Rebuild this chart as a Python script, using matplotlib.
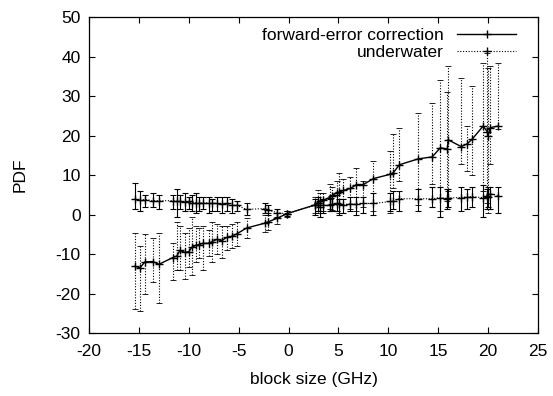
import matplotlib
matplotlib.use("Agg")
import matplotlib.pyplot as plt
from matplotlib.lines import Line2D
import numpy as np

plt.rcParams['font.family'] = ['Liberation Sans', 'DejaVu Sans']
plt.rcParams['axes.unicode_minus'] = False

# shared x positions (GHz)
x = [-15.4, -14.9, -14.4, -13.6, -13.0, -11.6, -11.2, -10.9, -10.4, -10.0,
     -9.7, -9.3, -9.0, -8.6, -8.0, -7.7, -7.2, -6.7, -6.2, -5.7,
     -5.2, -4.2, -2.4, -2.1, -1.2, -0.2, 2.6, 2.9, 3.1, 3.4,
     4.1, 4.3, 4.8, 5.1, 5.5, 6.2, 6.8, 7.5, 8.5, 10.2,
     10.5, 11.1, 13.0, 14.4, 15.2, 15.9, 16.0, 17.3, 17.9, 18.4,
     19.5, 19.9, 20.0, 20.2, 21.0]

# forward-error correction
fec_y = [-13.1, -13.5, -12.0, -11.9, -12.6, -10.9, -10.5, -9.1, -9.6, -9.4,
         -8.3, -7.8, -7.6, -7.3, -7.3, -6.9, -6.3, -6.6, -5.8, -5.5,
         -4.9, -3.4, -2.2, -1.9, -1.0, 0.2, 2.4, 2.9, 3.3, 3.6,
         4.3, 4.7, 5.5, 5.7, 6.1, 6.6, 7.6, 7.6, 9.1, 10.2,
         10.6, 12.6, 14.1, 14.6, 16.9, 16.6, 18.9, 17.2, 17.9, 19.1,
         22.4, 21.0, 20.0, 22.0, 22.4]
fec_lo = [-24, -24.5, -20, -17, -22.5, -16.7, -14, -14, -16.2, -13.4,
          -15.4, -12, -11, -14, -10.5, -12, -10, -11, -9, -8.5,
          -8, -6, -4.5, -4, -2.5, -0.5, 0.3, 0.5, 0.8, 1.0,
          1.5, 1.2, 1.0, 0.5, 2.5, 1.5, 1.0, 2.0, 1.0, 0.5,
          6.8, 8.6, 2.3, 7.8, 1.0, 3.5, 6.0, 12.9, 11.1, 10.0,
          6.0, 3.0, 0.5, 12.9, 21.7]
fec_hi = [-4.8, -8, -5, -6, -4.8, -7.3, -2, -3, -4.8, -3.5,
          -0.7, -2.8, -3.5, -3, -4, -2, -2.5, -3, -3, -2.5,
          -2, -1, 0, 0.3, 0.5, 1.0, 4.5, 6.1, 5.5, 5.5,
          7.8, 7.0, 8.5, 10.6, 9.0, 9.5, 11.9, 8.6, 13.6, 16.2,
          20.4, 22.0, 25.8, 28.3, 34.0, 31.0, 37.6, 34.6, 22.5, 32.6,
          38.4, 41.0, 37.0, 37.6, 38.4]

# underwater
uw_y = [4.0, 3.6, 3.8, 3.5, 3.5, 3.5, 3.3, 3.3, 3.2, 3.3,
        3.0, 3.0, 2.8, 3.0, 2.9, 2.8, 2.8, 2.7, 2.8, 2.3,
        2.3, 1.3, 1.5, 1.2, 0.5, 0.2, 2.3, 2.8, 1.8, 2.4,
        2.3, 2.6, 2.8, 2.6, 2.5, 2.7, 2.6, 2.8, 2.8, 3.3,
        3.5, 4.0, 4.0, 4.0, 4.3, 4.0, 4.2, 4.3, 4.5, 4.5,
        4.3, 4.8, 4.4, 5.3, 4.8]
uw_lo = [1.5, 1.0, 2.0, 1.8, 1.5, 1.5, -0.5, 1.5, 1.0, 1.5,
         0.8, 0.5, 1.0, 1.5, 0.5, 1.0, 1.0, 0.5, 1.0, 0.5,
         1.0, 0.0, 0.5, 0.0, -0.5, -0.3, 0.0, 1.0, -0.5, 0.5,
         0.8, 1.0, 1.0, 0.0, 0.5, 1.0, 0.0, 0.5, -0.2, 1.0,
         1.5, 1.0, 1.0, 2.0, -0.5, 1.5, 2.0, 1.0, 1.5, 2.0,
         -0.5, 1.5, 2.0, 1.5, 0.5]
uw_hi = [8.0, 6.0, 5.0, 5.5, 5.0, 5.0, 6.5, 5.0, 5.5, 4.5,
         5.0, 5.5, 4.5, 4.5, 4.5, 4.0, 4.5, 4.5, 4.5, 4.0,
         3.5, 3.0, 3.0, 2.5, 1.5, 1.0, 4.0, 4.5, 3.5, 4.0,
         4.0, 5.0, 5.0, 4.0, 4.0, 4.5, 4.5, 4.5, 5.5, 5.5,
         6.0, 6.0, 6.5, 7.0, 7.0, 6.5, 6.5, 7.0, 6.5, 7.0,
         7.5, 6.5, 7.0, 7.0, 7.0]

labels = ["forward-error correction", "underwater"]
xticks = [-20, -15, -10, -5, 0, 5, 10, 15, 20, 25]
yticks = [-30, -20, -10, 0, 10, 20, 30, 40, 50]

fig = plt.figure(figsize=(5.53, 3.96), dpi=100)
ax = fig.add_axes([0.161, 0.159, 0.812, 0.798])

xa = np.array(x)
fy = np.array(fec_y)
uy = np.array(uw_y)

# FEC error bars (dotted)
e1 = ax.errorbar(xa, fy, yerr=[fy - np.array(fec_lo), np.array(fec_hi) - fy],
                 fmt='none', ecolor='black', elinewidth=0.8, capsize=2,
                 capthick=0.6, zorder=2)
for lc in e1[2]:
    lc.set_linestyle((0, (1, 1.5)))
ax.plot(xa, fy, color='black', lw=1.0, marker='+', ms=6, mew=1.0, zorder=4)

# underwater error bars (solid)
ax.errorbar(xa, uy, yerr=[uy - np.array(uw_lo), np.array(uw_hi) - uy],
            fmt='none', ecolor='black', elinewidth=0.8, capsize=2.5,
            capthick=0.8, zorder=3)
ax.plot(xa, uy, color='black', lw=0.8, ls=(0, (1, 1.5)), marker='+', ms=6,
        mew=1.0, zorder=4)

ax.set_xlim(-20, 25)
ax.set_ylim(-30, 50)
ax.set_xticks(xticks)
ax.set_yticks(yticks)
ax.tick_params(direction='in', length=4.5, width=0.8, top=True, right=True,
               labelsize=12.5, colors='black')
ax.tick_params(axis='x', pad=8)
ax.tick_params(axis='y', pad=6)
for s in ax.spines.values():
    s.set_linewidth(0.9)

ax.set_xlabel("block size (GHz)", fontsize=12.5, labelpad=9)
ax.set_ylabel("PDF", fontsize=12.5, labelpad=20)

handles = [Line2D([], [], color='black', lw=1.0, marker='+', ms=6),
           Line2D([], [], color='black', lw=0.8, ls=(0, (1, 1.5)), marker='+', ms=6)]
ax.legend(handles, labels, loc='upper right', frameon=False, markerfirst=False,
          fontsize=12.5, handlelength=3.4, handletextpad=0.8, labelspacing=0.15,
          borderaxespad=0.2, bbox_to_anchor=(0.975, 1.0))

fig.savefig("out.png", dpi=100)
